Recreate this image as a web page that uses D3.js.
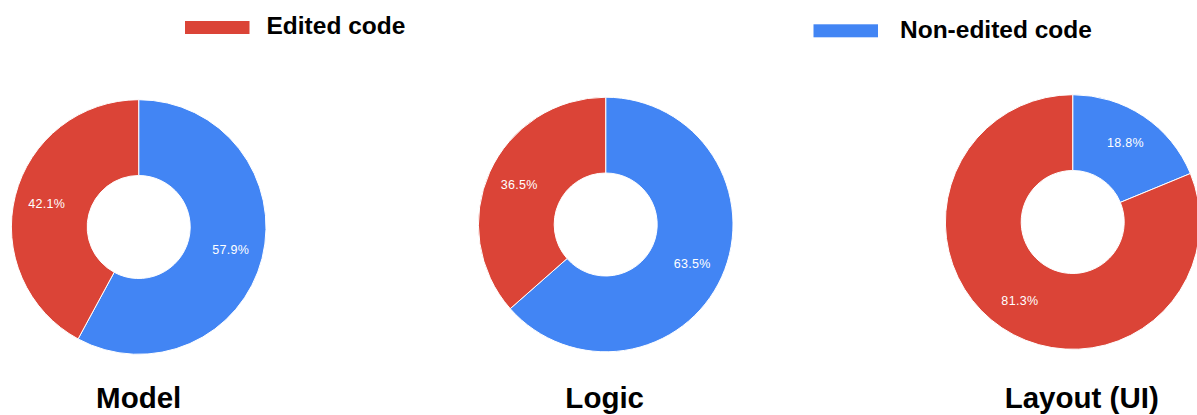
<!DOCTYPE html>
<html>
<head>
<meta charset="utf-8">
<script src="https://cdn.jsdelivr.net/npm/d3@7"></script>
<style>
  html, body { margin: 0; padding: 0; background: #fff; }
  svg { display: block; font-family: Arial, "Liberation Sans", Helvetica, sans-serif; }
</style>
</head>
<body>
<svg id="chart" width="1197" height="415"></svg>
<script>
// Share of edited vs. non-edited code, per code category (percent)
const categories = ["Model", "Logic", "Layout (UI)"];
const seriesNames = ["Non-edited code", "Edited code"];
const nonEditedValues = [57.9, 63.5, 18.8];
const editedValues = [42.1, 36.5, 81.3];

const colors = { "Edited code": "#DB4437", "Non-edited code": "#4285F4" };

const svg = d3.select("#chart");

// panel placement
const centerX = d3.scaleLinear().domain([0, categories.length - 1]).range([138.7, 1072.7]);
const centerY = d3.scaleLinear().domain([0, categories.length - 1]).range([227, 222]);
const titleShift = [0, -1, 9];
const outerR = 127.3, innerR = 51.5, labelR = 95;

const pie = d3.pie().sort(null).value(d => d.value);
const arc = d3.arc().innerRadius(innerR).outerRadius(outerR);
const labelArc = d3.arc().innerRadius(labelR).outerRadius(labelR);

categories.forEach((cat, i) => {
  const rows = [
    { name: seriesNames[0], value: nonEditedValues[i] },
    { name: seriesNames[1], value: editedValues[i] }
  ];
  const g = svg.append("g")
    .attr("transform", `translate(${centerX(i)},${centerY(i)})`);

  const slices = pie(rows);
  g.selectAll("path.slice")
    .data(slices)
    .join("path")
    .attr("class", "slice")
    .attr("d", arc)
    .attr("fill", d => colors[d.data.name])
    .attr("stroke", "#fff")
    .attr("stroke-width", 1);

  g.selectAll("text.pct")
    .data(slices)
    .join("text")
    .attr("class", "pct")
    .attr("transform", d => `translate(${labelArc.centroid(d)})`)
    .attr("text-anchor", "middle")
    .attr("dominant-baseline", "central")
    .attr("fill", "#fff")
    .style("font-size", "12.5px")
    .style("letter-spacing", "0.3px")
    .text(d => d.data.value.toFixed(1) + "%");

  svg.append("text")
    .attr("x", centerX(i) + titleShift[i])
    .attr("y", 407.5)
    .attr("text-anchor", "middle")
    .attr("fill", "#000")
    .style("font-size", "29.5px")
    .style("font-weight", "bold")
    .text(cat);
});

// legend
const legendItems = [
  { name: "Edited code", x: 185, y: 21, base: 34.3, gap: 81.5 },
  { name: "Non-edited code", x: 813.5, y: 24.3, base: 37.7, gap: 86.5 }
];
legendItems.forEach(item => {
  svg.append("rect")
    .attr("x", item.x).attr("y", item.y)
    .attr("width", 64.5).attr("height", 13)
    .attr("fill", colors[item.name]);
  svg.append("text")
    .attr("x", item.x + item.gap)
    .attr("y", item.base)
    .attr("fill", "#000")
    .style("font-size", "24.5px")
    .style("font-weight", "bold")
    .text(item.name);
});
</script>
</body>
</html>
